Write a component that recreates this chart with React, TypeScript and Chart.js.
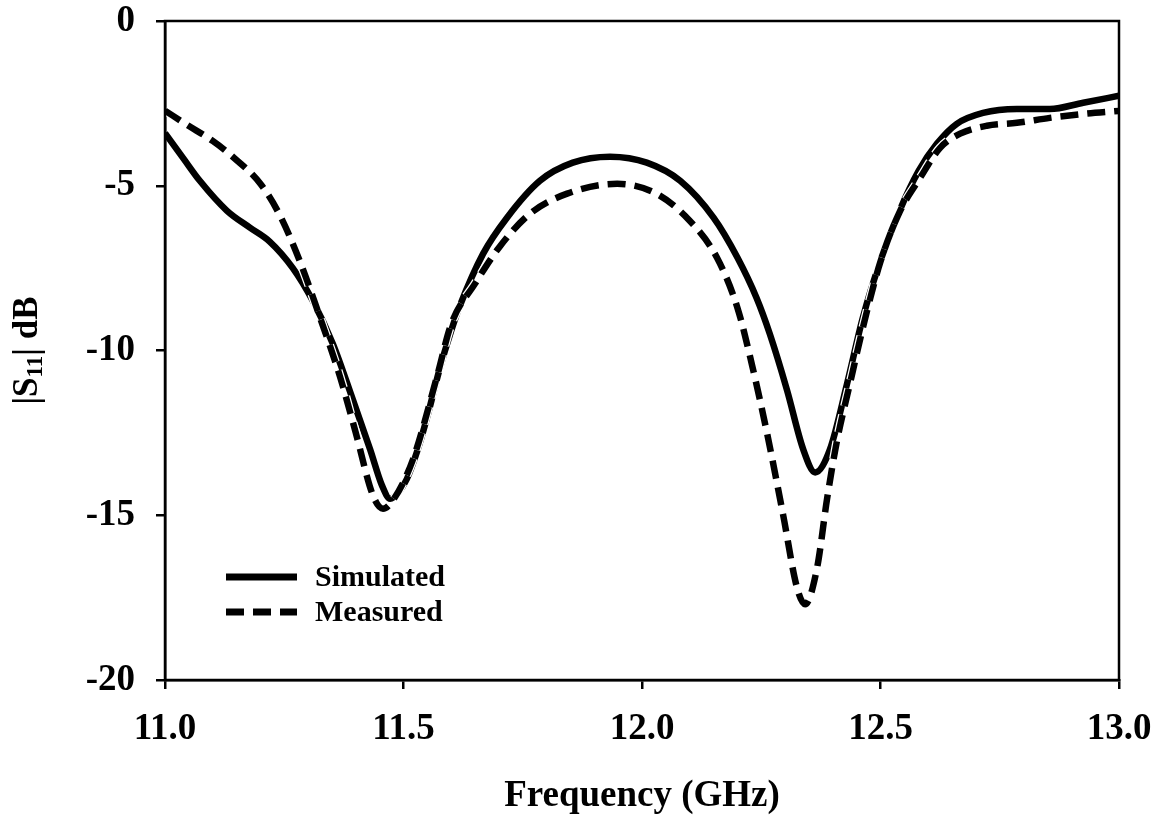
import React, { useEffect, useRef } from "react";
import { Chart, registerables } from "chart.js";

Chart.register(...registerables);

const FONT = '"Liberation Serif", "Times New Roman", serif';

// Simulated |S11| (dB)
const simFreq = [
  11.0, 11.04, 11.073, 11.13, 11.178, 11.22, 11.268, 11.31, 11.352, 11.394,
  11.43, 11.455, 11.472, 11.49, 11.507, 11.53, 11.55, 11.575, 11.6, 11.618,
  11.667, 11.717, 11.786, 11.855, 11.933, 12.01, 12.08, 12.15, 12.2, 12.24,
  12.268, 12.304, 12.338, 12.363, 12.394, 12.43, 12.463, 12.5, 12.54, 12.58,
  12.618, 12.66, 12.715, 12.786, 12.855, 12.925, 13.0,
];
const simValues = [
  -3.4, -4.2, -4.85, -5.76, -6.27, -6.7, -7.5, -8.5, -9.8, -11.5,
  -13.0, -14.1, -14.5, -14.3, -13.9, -13.0, -12.0, -10.6, -9.4, -8.65,
  -7.06, -5.97, -4.85, -4.3, -4.12, -4.3, -4.85, -5.97, -7.18, -8.4,
  -9.5, -11.2, -13.0, -13.7, -13.0, -11.0, -9.0, -7.27, -5.76, -4.55,
  -3.73, -3.12, -2.79, -2.67, -2.67, -2.48, -2.27,
];

// Measured |S11| (dB)
const measFreq = [
  11.0, 11.046, 11.1, 11.142, 11.2, 11.241, 11.283, 11.325, 11.367,
  11.4, 11.436, 11.457, 11.48, 11.52, 11.57, 11.6, 11.65, 11.7, 11.765,
  11.843, 11.948, 12.03, 12.1, 12.157, 12.2, 12.23, 12.262, 12.296, 12.325,
  12.342, 12.367, 12.388, 12.408, 12.436, 12.47, 12.5, 12.54, 12.583, 12.625,
  12.667, 12.723, 12.786, 12.855, 12.925, 13.0,
];
const measValues = [
  -2.72, -3.15, -3.64, -4.12, -4.94, -5.9, -7.3, -9.0, -10.8,
  -12.5, -14.4, -14.8, -14.5, -13.3, -10.8, -9.2, -7.97, -6.88, -5.85,
  -5.24, -4.94, -5.24, -6.06, -7.18, -8.7, -10.4, -12.5, -15.0, -17.2,
  -17.7, -16.6, -14.5, -12.8, -11.0, -8.9, -7.3, -5.8, -4.76, -3.85,
  -3.42, -3.18, -3.09, -2.94, -2.82, -2.73,
];

const seriesNames = ["Simulated", "Measured"];
const xTicks = [11.0, 11.5, 12.0, 12.5, 13.0];
const yTicks = [0, -5, -10, -15, -20];

const DASH = [18, 9];

const toPoints = (xs: number[], ys: number[]) => xs.map((x, i) => ({ x, y: ys[i] }));

const framePlugin = {
  id: "frame",
  afterDatasetsDraw(chart: any) {
    const { ctx, chartArea } = chart;
    ctx.save();
    ctx.strokeStyle = "#000";
    ctx.lineWidth = 2.5;
    ctx.strokeRect(chartArea.left, chartArea.top, chartArea.right - chartArea.left, chartArea.bottom - chartArea.top);
    ctx.restore();
  },
};

const yTitlePlugin = {
  id: "yTitle",
  afterDraw(chart: any) {
    const { ctx, chartArea } = chart;
    const cy = (chartArea.top + chartArea.bottom) / 2;
    const cx = 28;
    const big = `bold 35px ${FONT}`;
    const small = `bold 23px ${FONT}`;
    const parts = [
      { t: "|S", f: big, dy: 0 },
      { t: "11", f: small, dy: 8 },
      { t: "| dB", f: big, dy: 0 },
    ];
    ctx.save();
    let total = 0;
    const widths = parts.map((p) => {
      ctx.font = p.f;
      const w = ctx.measureText(p.t).width;
      total += w;
      return w;
    });
    ctx.translate(cx, cy);
    ctx.rotate(-Math.PI / 2);
    ctx.fillStyle = "#000";
    ctx.textBaseline = "middle";
    ctx.textAlign = "left";
    let x = -total / 2;
    parts.forEach((p, i) => {
      ctx.font = p.f;
      ctx.fillText(p.t, x, p.dy);
      x += widths[i];
    });
    ctx.restore();
  },
};

const legendPlugin = {
  id: "customLegend",
  afterDraw(chart: any) {
    const { ctx } = chart;
    const rows = [
      { y: 577, dash: [] as number[], label: seriesNames[0] },
      { y: 612, dash: DASH, label: seriesNames[1] },
    ];
    ctx.save();
    rows.forEach((r) => {
      ctx.beginPath();
      ctx.setLineDash(r.dash);
      ctx.lineWidth = 7;
      ctx.strokeStyle = "#000";
      ctx.lineCap = "butt";
      ctx.moveTo(226, r.y);
      ctx.lineTo(297, r.y);
      ctx.stroke();
      ctx.setLineDash([]);
      ctx.font = `bold 30px ${FONT}`;
      ctx.fillStyle = "#000";
      ctx.textBaseline = "middle";
      ctx.textAlign = "left";
      ctx.fillText(r.label, 315, r.y + 1);
    });
    ctx.restore();
  },
};

export default function App() {
  const ref = useRef<HTMLCanvasElement | null>(null);

  useEffect(() => {
    if (!ref.current) return;
    const tickFont = { family: FONT, size: 37, weight: "bold" as const };
    const chart = new Chart(ref.current, {
      type: "line",
      data: {
        datasets: [
          {
            label: seriesNames[0],
            data: toPoints(simFreq, simValues),
            borderColor: "#000",
            borderWidth: 6.5,
            pointRadius: 0,
            cubicInterpolationMode: "monotone",
            fill: false,
            order: 3,
          },
          {
            label: seriesNames[1] + " halo",
            data: toPoints(measFreq, measValues),
            borderColor: "#fff",
            borderWidth: 9,
            borderDash: DASH,
            pointRadius: 0,
            cubicInterpolationMode: "monotone",
            fill: false,
            order: 2,
          },
          {
            label: seriesNames[1],
            data: toPoints(measFreq, measValues),
            borderColor: "#000",
            borderWidth: 6.5,
            borderDash: DASH,
            pointRadius: 0,
            cubicInterpolationMode: "monotone",
            fill: false,
            order: 1,
          },
        ],
      },
      options: {
        animation: false,
        responsive: false,
        layout: { padding: { top: 21, right: 47, left: 0, bottom: 0 } },
        plugins: {
          legend: { display: false },
          tooltip: { enabled: false },
        },
        scales: {
          x: {
            type: "linear",
            min: 11,
            max: 13,
            afterBuildTicks: (s: any) => {
              s.ticks = xTicks.map((v) => ({ value: v }));
            },
            afterFit: (s: any) => {
              s.height = 141;
              s.paddingLeft = 0;
              s.paddingRight = 0;
            },
            ticks: {
              callback: (v: any) => Number(v).toFixed(1),
              font: tickFont,
              color: "#000",
              padding: 18,
              maxRotation: 0,
              autoSkip: false,
            },
            grid: {
              drawOnChartArea: false,
              drawTicks: true,
              tickLength: 9,
              color: "#000",
              lineWidth: 2.5,
            },
            border: { display: true, color: "#000", width: 2.5 },
            title: {
              display: true,
              text: "Frequency (GHz)",
              font: { family: FONT, size: 37, weight: "bold" },
              color: "#000",
              padding: { top: 0, bottom: 2 },
            },
          },
          y: {
            type: "linear",
            min: -20,
            max: 0,
            afterBuildTicks: (s: any) => {
              s.ticks = yTicks.slice().reverse().map((v) => ({ value: v }));
            },
            afterFit: (s: any) => {
              s.width = 165;
              s.paddingTop = 0;
              s.paddingBottom = 0;
            },
            ticks: {
              font: tickFont,
              color: "#000",
              padding: 21,
              autoSkip: false,
            },
            grid: {
              drawOnChartArea: false,
              drawTicks: true,
              tickLength: 9,
              color: "#000",
              lineWidth: 2.5,
            },
            border: { display: true, color: "#000", width: 2.5 },
          },
        },
      },
      plugins: [framePlugin, yTitlePlugin, legendPlugin],
    } as any);
    return () => chart.destroy();
  }, []);

  return (
    <div style={{ position: "absolute", left: 0, top: 0, width: 1166, height: 821, background: "#fff" }}>
      <canvas ref={ref} width={1166} height={821} style={{ display: "block" }} />
    </div>
  );
}
